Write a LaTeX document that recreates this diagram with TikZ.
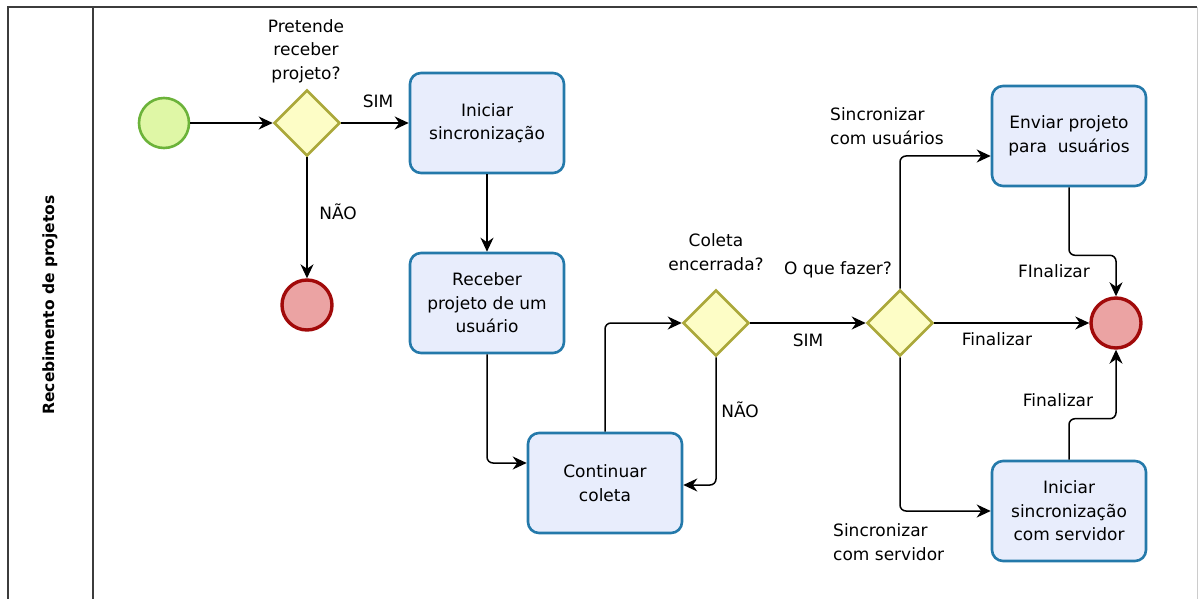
\documentclass[tikz,border=0pt]{standalone}
\usepackage{fontspec}
\setmainfont{DejaVu Sans}
\usetikzlibrary{shapes.geometric,arrows.meta,calc}
\definecolor{startfill}{HTML}{DFF7A6}
\definecolor{startline}{HTML}{6CB33A}
\definecolor{gwfill}{HTML}{FDFDC6}
\definecolor{gwline}{HTML}{ABA83A}
\definecolor{taskfill}{HTML}{E8EDFC}
\definecolor{taskline}{HTML}{2479AA}
\definecolor{endfill}{HTML}{EBA3A3}
\definecolor{endline}{HTML}{A10A0A}
\definecolor{poolline}{HTML}{3C3C3C}
\tikzset{
  every node/.style={font=\fontsize{17}{23.5}\selectfont},
  startev/.style={circle,draw=startline,fill=startfill,line width=2.6pt,minimum size=50pt,inner sep=0},
  endev/.style={circle,draw=endline,fill=endfill,line width=3.4pt,minimum size=50pt,inner sep=0},
  gateway/.style={diamond,draw=gwline,fill=gwfill,line width=2.6pt,minimum width=66pt,minimum height=66pt,inner sep=0,aspect=1},
  task/.style={rectangle,rounded corners=11pt,draw=taskline,fill=taskfill,line width=2.6pt,minimum width=154pt,minimum height=100pt,align=center,inner sep=0},
  flow/.style={line width=1.5pt,rounded corners=6pt,-{Stealth[length=14pt,width=13pt,inset=4.5pt]}},
  lbl/.style={align=center,inner sep=0},
  lbll/.style={align=left,inner sep=0,anchor=west},
}
\begin{document}
\begin{tikzpicture}[x=1pt,y=-1pt]
\useasboundingbox (0,0) rectangle (1200,599);
% pool and lane
\draw[poolline,line width=2pt] (8,620) -- (8,7) -- (1197,7);
\draw[gray!40,line width=1pt] (1197,7) -- (1197,620);
\draw[poolline,line width=2pt] (93,7) -- (93,620);
\node[rotate=90,font=\fontsize{15.5}{18}\bfseries] (lane) at (50,305) {Recebimento de projetos};

% events, gateways and tasks
\node[startev] (s) at (164,123) {};
\node[gateway] (g1) at (307,123) {};
\node[endev] (e1) at (307,305) {};
\node[task] (t1) at (487,123) {Iniciar\\sincronização};
\node[task] (t2) at (487,303) {Receber\\projeto de um\\usuário};
\node[task] (t3) at (605,483) {Continuar\\coleta};
\node[gateway] (g2) at (716,323) {};
\node[gateway] (g3) at (900,323) {};
\node[endev] (e2) at (1116,323) {};
\node[task] (t4) at (1069,136) {Enviar projeto\\para\ \ usuários};
\node[task] (t5) at (1069,511) {Iniciar\\sincronização\\com servidor};

% gateway questions
\node[lbl] (q1) at (306,51) {Pretende\\receber\\projeto?};
\node[lbl] (q2) at (716,252) {Coleta\\encerrada?};
\node[lbl] (q3) at (838,270) {O que fazer?};

% sequence flows
\draw[flow] (s) -- (g1);
\draw[flow] (g1) -- (t1);
\draw[flow] (g1) -- (e1);
\draw[flow] (t1) -- (t2);
\draw[flow] (t2.south) |- ($(t3.west)+(0,-20)$);
\draw[flow] (t3.north) |- (g2.west);
\draw[flow] (g2.south) |- ($(t3.east)+(0,2)$);
\draw[flow] (g2) -- (g3);
\draw[flow] (g3) -- (e2);
\draw[flow] (g3.north) |- ($(t4.west)+(0,20)$);
\draw[flow] (g3.south) |- (t5.west);
\draw[flow] (t4.south) -- ++(0,68) -| (e2.north);
\draw[flow] (t5.north) -- ++(0,-41) -| (e2.south);

% flow labels
\node[lbl] (l1) at (378,101) {SIM};
\node[lbl] (l2) at (338,212) {NÃO};
\node[lbl] (l3) at (808,340) {SIM};
\node[lbl] (l4) at (740,410) {NÃO};
\node[lbl] (l5) at (997,339) {Finalizar};
\node[lbl] (l6) at (1054,271) {FInalizar};
\node[lbl] (l7) at (1058,400) {Finalizar};
\node[lbll] (l8) at (830,126) {Sincronizar\\com usuários};
\node[lbll] (l9) at (833,542) {Sincronizar\\com servidor};
\end{tikzpicture}
\end{document}
